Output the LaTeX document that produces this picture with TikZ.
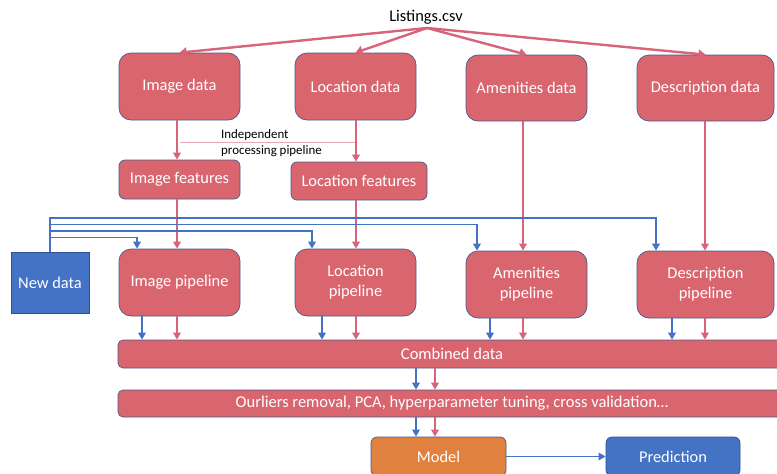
\documentclass[tikz,border=0pt]{standalone}
\usepackage{fontspec}
\setmainfont{Carlito}
\usetikzlibrary{arrows.meta}
\definecolor{boxpink}{HTML}{D9656F}
\definecolor{linepink}{HTML}{D8647A}
\definecolor{sepink}{HTML}{EBA9B3}
\definecolor{boxedge}{HTML}{4B5A8A}
\definecolor{blueA}{HTML}{4472C4}
\definecolor{blueedge}{HTML}{2F528F}
\definecolor{orangeA}{HTML}{E0813F}
\begin{document}
\begin{tikzpicture}[x=1pt,y=-1pt,
  txt/.style={font=\fontsize{16.4}{20}\selectfont},
  pbox/.style={txt,draw=boxedge,line width=0.7pt,fill=boxpink,text=white,rounded corners=12pt,inner sep=0pt,align=center},
  sbox/.style={pbox,rounded corners=6pt},
  band/.style={pbox,rounded corners=5pt,font=\fontsize{16.5}{20}\selectfont},
  pk/.style={draw=linepink,line width=2.4pt,-{Triangle[width=9pt,length=7pt]}},
  pkv/.style={draw=linepink,line width=1.8pt,-{Triangle[width=7.5pt,length=7pt]}},
  bl/.style={draw=blueA,line width=2.2pt},
  blv/.style={draw=blueA,line width=1.8pt,-{Triangle[width=7.5pt,length=7pt]}}]
\useasboundingbox (0,0) rectangle (777,474);
\clip (0,0) rectangle (777,474);
% source
\node[txt,text=black] (lst) at (426,17) {Listings.csv};
\coordinate (src) at (427,28);
% data boxes
\node[pbox,minimum width=121pt,minimum height=67pt] (imgd) at (179.5,86.5) {Image data};
\node[pbox,minimum width=121pt,minimum height=67pt] (locd) at (355.5,86.5) {Location data};
\node[pbox,minimum width=121pt,minimum height=66pt] (amd) at (526.5,88) {Amenities data};
\node[pbox,minimum width=137pt,minimum height=66pt] (desd) at (705.5,88) {Description data};
% features
\node[sbox,minimum width=121pt,minimum height=39pt] (imgf) at (179.5,179.5) {Image features};
\node[sbox,minimum width=136pt,minimum height=38pt] (locf) at (359,181) {Location features};
% separator label
\coordinate (sepL) at (180,142);
\coordinate (sepR) at (355,142);
\draw[sepink,line width=0.6pt] (sepL) -- (sepR);
\node[font=\fontsize{12.9}{16}\selectfont,anchor=west,inner sep=0pt] (indep) at (221,135) {Independent};
\node[font=\fontsize{12.9}{16}\selectfont,anchor=west,inner sep=0pt] (procp) at (221,151) {processing pipeline};
% new data
\node[txt,draw=blueedge,line width=0.7pt,fill=blueA,text=white,minimum width=78pt,minimum height=61pt,inner sep=0pt] (newd) at (50,282.5) {New data};
% pipelines
\node[pbox,minimum width=121pt,minimum height=67pt] (imgp) at (179.5,282.5) {Image pipeline};
\node[pbox,minimum width=121pt,minimum height=67pt] (locp) at (355.5,282.5) {Location\\pipeline};
\node[pbox,minimum width=121pt,minimum height=67pt] (amp) at (526.5,284.5) {Amenities\\pipeline};
\node[pbox,minimum width=137pt,minimum height=67pt] (desp) at (705.5,284.5) {Description\\pipeline};
% bands
\node[band,minimum width=668pt,minimum height=28pt] (comb) at (452,354) {Combined data};
\node[band,minimum width=668pt,minimum height=27pt] (proc) at (452,403.5) {Ourliers removal, PCA, hyperparameter tuning, cross validation\dots};
% model & prediction
\node[txt,draw=boxedge,line width=0.7pt,fill=orangeA,text=white,rounded corners=6pt,minimum width=135pt,minimum height=39pt,inner sep=0pt] (model) at (438.5,456.5) {Model};
\node[txt,draw=blueedge,line width=0.7pt,fill=blueA,text=white,rounded corners=6pt,minimum width=134pt,minimum height=39pt,inner sep=0pt] (pred) at (673,456.5) {Prediction};
% x positions
\coordinate (xpI) at (177,0);
\coordinate (xpL) at (356,0);
\coordinate (xpA) at (523,0);
\coordinate (xpD) at (705,0);
\coordinate (xbI) at (142,0);
\coordinate (xbL) at (322,0);
\coordinate (xbA) at (490,0);
\coordinate (xbD) at (672,0);
\coordinate (xtI) at (137,0);
\coordinate (xtL) at (312,0);
\coordinate (xtA) at (477,0);
\coordinate (xtD) at (656,0);
\coordinate (xcB) at (416,0);
\coordinate (xcP) at (435,0);
\coordinate (yD) at (0,218);
\coordinate (yA) at (0,224.5);
\coordinate (yL) at (0,231);
\coordinate (yI) at (0,237.5);
% listings arrows
\draw[pk] (src) -- (imgd.north);
\draw[pk] (src) -- (locd.north);
\draw[pk] (src) -- (amd.north);
\draw[pk] (src) -- (desd.north);
% data -> features / pipelines
\draw[pkv] (imgd.south -| xpI) -- (imgf.north -| xpI);
\draw[pkv] (locd.south -| xpL) -- (locf.north -| xpL);
\draw[pkv] (imgf.south -| xpI) -- (imgp.north -| xpI);
\draw[pkv] (locf.south -| xpL) -- (locp.north -| xpL);
\draw[pkv] (amd.south -| xpA) -- (amp.north -| xpA);
\draw[pkv] (desd.south -| xpD) -- (desp.north -| xpD);
% new data blue lines
\draw[bl] (newd.north) -- (newd.north |- yD) -- (xtD |- yD);
\draw[blv] (newd.north |- yD) -- (xtD |- yD) -- (desp.north -| xtD);
\draw[blv] (newd.north |- yA) -- (xtA |- yA) -- (amp.north -| xtA);
\draw[blv] (newd.north |- yL) -- (xtL |- yL) -- (locp.north -| xtL);
\draw[blv] (newd.north |- yI) -- (xtI |- yI) -- (imgp.north -| xtI);
% pipelines -> combined
\draw[blv] (imgp.south -| xbI) -- (comb.north -| xbI);
\draw[pkv] (imgp.south -| xpI) -- (comb.north -| xpI);
\draw[blv] (locp.south -| xbL) -- (comb.north -| xbL);
\draw[pkv] (locp.south -| xpL) -- (comb.north -| xpL);
\draw[blv] (amp.south -| xbA) -- (comb.north -| xbA);
\draw[pkv] (amp.south -| xpA) -- (comb.north -| xpA);
\draw[blv] (desp.south -| xbD) -- (comb.north -| xbD);
\draw[pkv] (desp.south -| xpD) -- (comb.north -| xpD);
% combined -> processing -> model
\draw[blv] (comb.south -| xcB) -- (proc.north -| xcB);
\draw[pkv] (comb.south -| xcP) -- (proc.north -| xcP);
\draw[blv] (proc.south -| xcB) -- (model.north -| xcB);
\draw[pkv] (proc.south -| xcP) -- (model.north -| xcP);
% model -> prediction
\draw[blv,line width=1.6pt] (model.east) -- (pred.west);
\end{tikzpicture}
\end{document}
